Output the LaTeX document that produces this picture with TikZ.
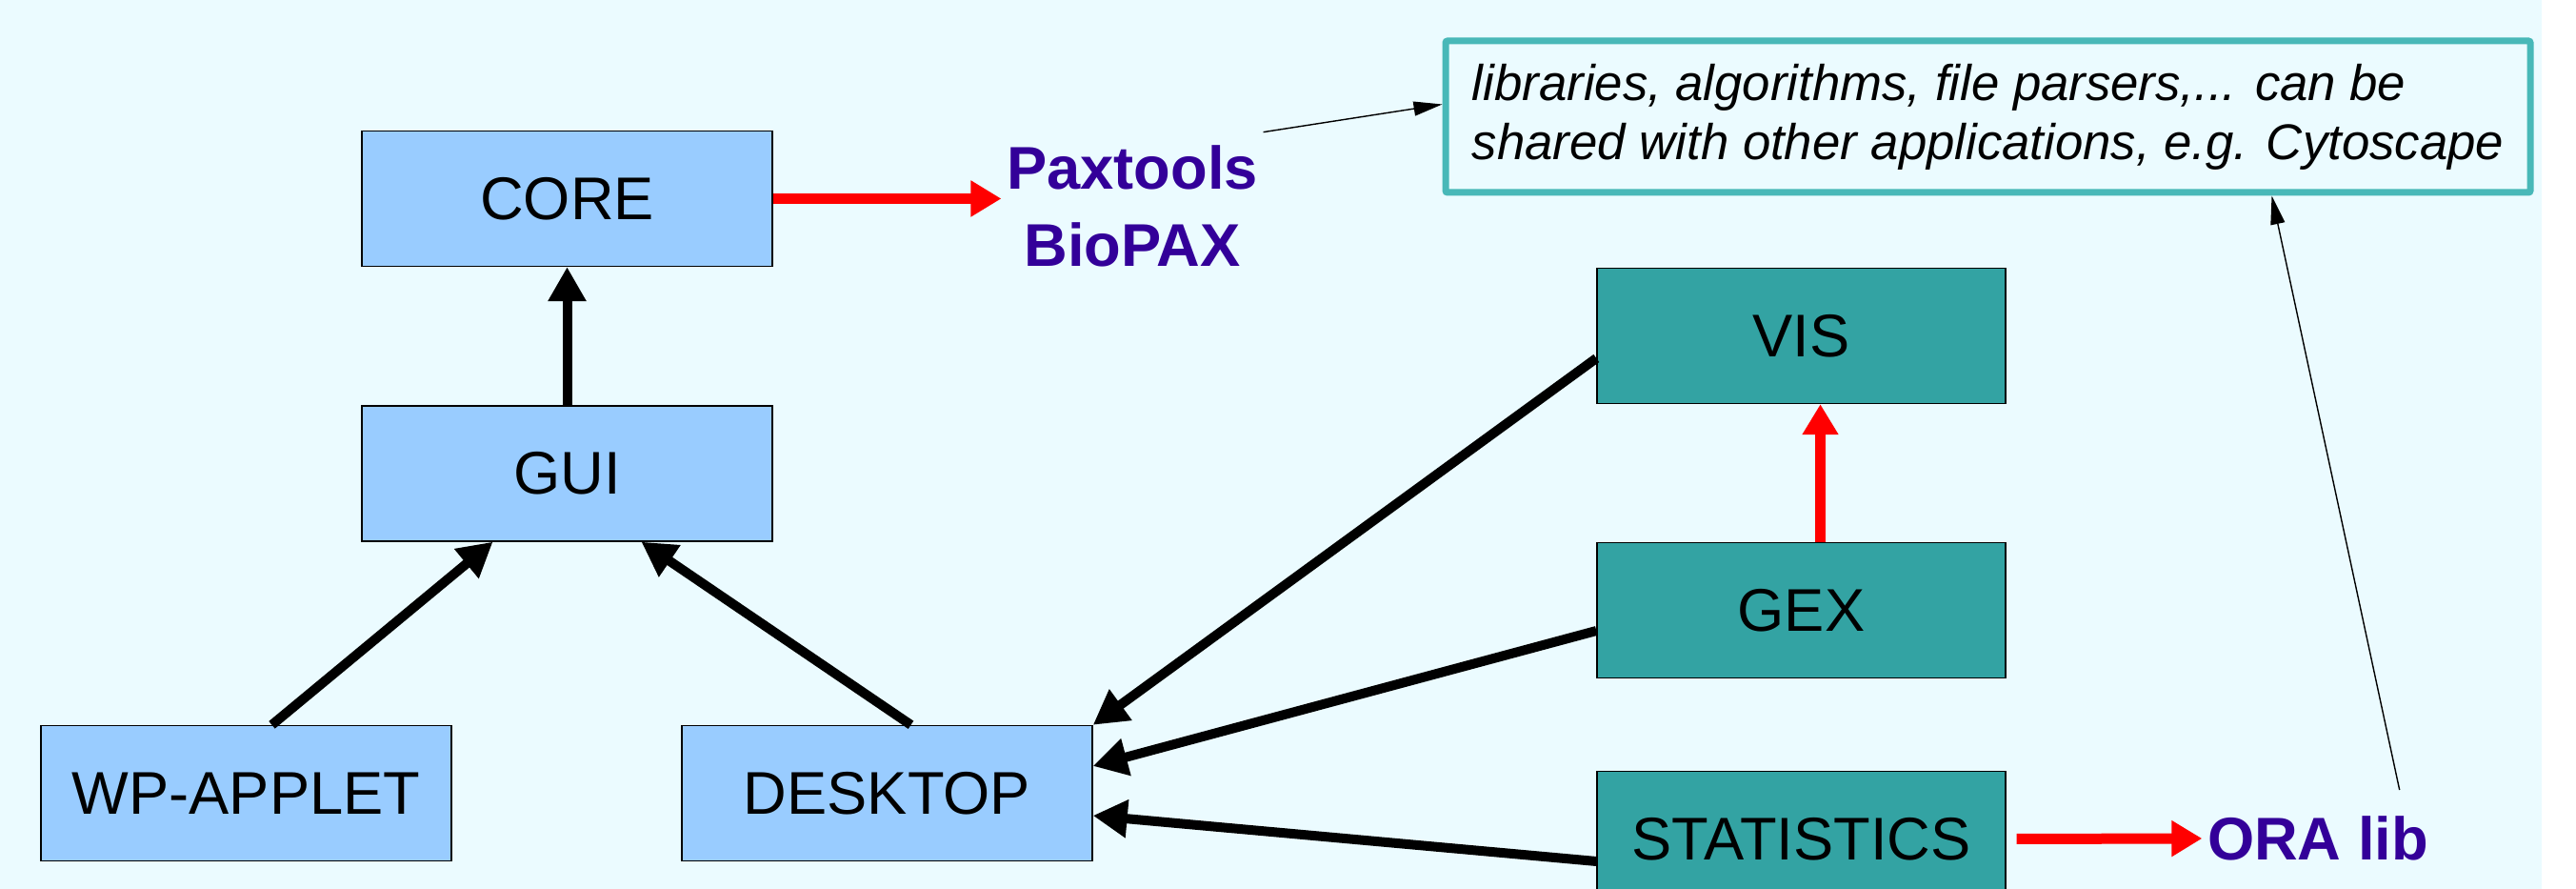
\documentclass[tikz,border=0pt]{standalone}
\usepackage{fontspec}
\setmainfont{Liberation Sans}
\usepackage{tikz}
\usetikzlibrary{arrows.meta,positioning}
\definecolor{bgcyan}{RGB}{235,251,255}
\definecolor{boxblue}{RGB}{153,204,255}
\definecolor{boxteal}{RGB}{51,163,163}
\definecolor{noteteal}{RGB}{72,184,184}
\definecolor{libblue}{RGB}{51,0,153}
\tikzset{module/.style={draw=black,thin,fill=boxblue,minimum width=4.31cm,minimum height=1.42cm,inner sep=0pt,font=\fontsize{18}{22}\selectfont}}
\tikzset{tealmodule/.style={module,fill=boxteal,minimum width=4.29cm}}

\begin{document}
\begin{tikzpicture}[
    libtext/.style={text=libblue,font=\fontsize{18}{23}\selectfont\bfseries,align=center,inner sep=0.05cm},
    notebox/.style={draw=noteteal,line width=0.07cm,rounded corners=0.02cm,fill=bgcyan,minimum width=11.39cm,minimum height=1.59cm,align=left,font=\fontsize{15}{17.6}\selectfont\itshape},
    uses/.style={-{Triangle[width=0.38cm,length=0.36cm]},line width=0.1cm,black},
    extern/.style={-{Triangle[width=0.36cm,length=0.32cm]},line width=0.11cm,red},
    hint/.style={-{Triangle[width=0.15cm,length=0.3cm]},line width=0.4pt,black}]
    \useasboundingbox (0,0) rectangle (27.05,9.33);
    \fill[bgcyan] (0,0) rectangle (26.69,9.33);

    \node[module] (core) at (5.955,7.245) {CORE};
    \node[module] (gui) at (5.955,4.36) {GUI};
    \node[module] (wpapplet) at (2.585,1.005) {WP-APPLET};
    \node[module] (desktop) at (9.315,1.005) {DESKTOP};

    \node[tealmodule] (vis) at (18.915,5.805) {VIS};
    \node[tealmodule] (gex) at (18.915,2.925) {GEX};
    \node[tealmodule] (statistics) at (18.915,0.525) {STATISTICS};

    \node[libtext] (paxtools) at (11.89,7.17) {Paxtools\\BioPAX};
    \node[libtext] (oralib) at (24.34,0.53) {ORA lib};
    \node[notebox] (note) at (20.875,8.105) {libraries, algorithms, file parsers,... can be\\shared with other applications, e.g. Cytoscape};

    \draw[uses] (gui) -- (core);
    \draw[uses] ([xshift=0.27cm]wpapplet.north) -- ([xshift=-0.78cm]gui.south);
    \draw[uses] ([xshift=0.25cm]desktop.north) -- ([xshift=0.78cm]gui.south);
    \draw[uses] ([yshift=-0.235cm]vis.west) -- (desktop.north east);
    \draw[uses] ([yshift=-0.215cm]gex.west) -- ([yshift=0.285cm]desktop.east);
    \draw[uses] ([yshift=-0.235cm]statistics.west) -- ([yshift=-0.235cm]desktop.east);

    \draw[extern] (core.east) -- (core.east -| paxtools.west);
    \draw[extern] ([xshift=0.2cm]gex.north) -- ([xshift=0.2cm]vis.south);
    \draw[extern,shorten <=0.11cm] (statistics.east) -- (oralib.west);

    \draw[hint] ([yshift=0.08cm]paxtools.north east) -- ([yshift=0.13cm]note.west);
    \draw[hint] ([shift={(-0.36cm,0.22cm)}]oralib.north east) -- ([xshift=2.98cm]note.south);
\end{tikzpicture}
\end{document}
